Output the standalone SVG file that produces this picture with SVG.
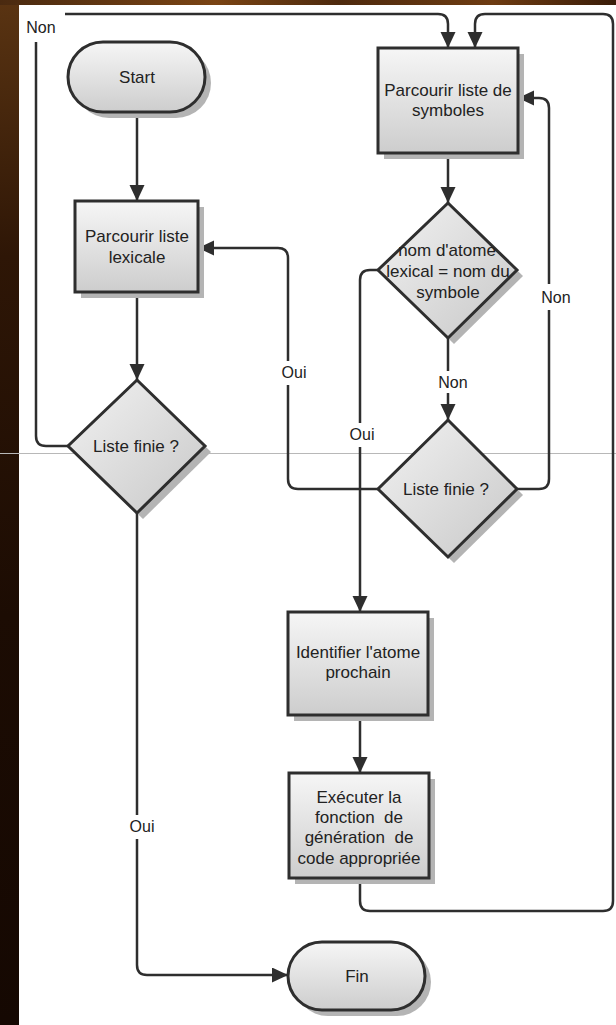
<svg xmlns="http://www.w3.org/2000/svg" width="616" height="1025" viewBox="0 0 616 1025">
<defs>
<linearGradient id="bgLeft" x1="0" y1="0" x2="0" y2="1">
<stop offset="0" stop-color="#5a3412"/>
<stop offset="0.25" stop-color="#2e1606"/>
<stop offset="0.6" stop-color="#1c0c03"/>
<stop offset="1" stop-color="#150802"/>
</linearGradient>
<linearGradient id="bgTop" x1="0" y1="0" x2="1" y2="0">
<stop offset="0" stop-color="#4a2a10"/>
<stop offset="0.35" stop-color="#7a4414"/>
<stop offset="0.55" stop-color="#4e2a0e"/>
<stop offset="0.8" stop-color="#6e3c12"/>
<stop offset="1" stop-color="#3a1c08"/>
</linearGradient>
<linearGradient id="nodeFill" x1="0" y1="0" x2="0" y2="1">
<stop offset="0" stop-color="#f6f6f6"/>
<stop offset="1" stop-color="#cdcdcd"/>
</linearGradient>
<linearGradient id="diaFill" x1="0" y1="0" x2="1" y2="1">
<stop offset="0" stop-color="#f2f2f2"/>
<stop offset="1" stop-color="#c8c8c8"/>
</linearGradient>
<marker id="arrow" markerUnits="userSpaceOnUse" markerWidth="18" markerHeight="16" refX="16" refY="7.5" orient="auto">
<path d="M0,0 L16,7.5 L0,15 z" fill="#2e2e2e"/>
</marker>
</defs>
<style>
.node{fill:url(#nodeFill);stroke:#2e2e2e;stroke-width:3}
.dia{fill:url(#diaFill);stroke:#2e2e2e;stroke-width:3;stroke-linejoin:miter}
.shadow{fill:#b4b4b4}
.conn{fill:none;stroke:#2e2e2e;stroke-width:2.5}
.arr{marker-end:url(#arrow)}
.t{font-family:"Liberation Sans",Arial,sans-serif;font-size:17px;fill:#222;text-anchor:middle}
.lbl{font-family:"Liberation Sans",Arial,sans-serif;font-size:16px;fill:#222;text-anchor:middle}
.lblbg{fill:#ffffff}
</style>

<!-- background -->
<rect x="0" y="0" width="616" height="1025" fill="url(#bgLeft)"/>
<rect x="0" y="0" width="616" height="5" fill="url(#bgTop)"/>
<rect x="19" y="5" width="597" height="1020" fill="#ffffff"/>
<line x1="0" y1="453.5" x2="616" y2="453.5" stroke="#b8b8b8" stroke-width="1"/>

<g id="connectors">
<path class="conn arr" d="M137,112 V201"/>
<path class="conn arr" d="M137,292 V380"/>
<path class="conn arr" d="M68,446 H46 Q36,446 36,436 V42 M65,14 H438 Q448,14 448,24 V48"/>
<path class="conn arr" d="M448,153 V203"/>
<path class="conn arr" d="M448,338 V420"/>
<path class="conn arr" d="M517,489 H539 Q549,489 549,479 V108 Q549,98 539,98 H518"/>
<path class="conn arr" d="M378,489 H298 Q288,489 288,479 V258 Q288,248 278,248 H198"/>
<path class="conn arr" d="M378,270 H370 Q360,270 360,280 V612"/>
<path class="conn arr" d="M360,715 V773"/>
<path class="conn arr" d="M360,878 V901 Q360,911 370,911 H603 Q613,911 613,901 V24 Q613,14 603,14 H485 Q475,14 475,24 V48"/>
<path class="conn arr" d="M137,513 V965 Q137,975 147,975 H288"/>
<!-- labels -->
<text class="lbl" x="41" y="33">Non</text>
<rect class="lblbg" x="438" y="371" width="30" height="22"/>
<text class="lbl" x="453" y="388">Non</text>
<rect class="lblbg" x="540" y="284" width="30" height="26"/>
<text class="lbl" x="556" y="303">Non</text>
<rect class="lblbg" x="280" y="361" width="28" height="24"/>
<text class="lbl" x="294" y="378">Oui</text>
<rect class="lblbg" x="348" y="423" width="28" height="24"/>
<text class="lbl" x="362" y="440">Oui</text>
<rect class="lblbg" x="127" y="815" width="30" height="24"/>
<text class="lbl" x="142" y="832">Oui</text>
</g>

<g id="start">
<rect class="shadow" x="74" y="48" width="137" height="70" rx="35"/>
<rect class="node" x="68" y="42" width="137" height="70" rx="35"/>
<text class="t" x="137" y="83">Start</text>
</g>

<g id="parcourir-lexicale">
<rect class="shadow" x="81" y="207" width="123" height="91"/>
<rect class="node" x="75" y="201" width="123" height="91"/>
<text class="t" x="137" y="242">Parcourir liste</text>
<text class="t" x="137" y="263">lexicale</text>
</g>

<g id="liste-finie-1">
<polygon class="shadow" points="143,386 211,452 143,519 74,452"/>
<polygon class="dia" points="137,380 205,446 137,513 68,446"/>
<text class="t" x="136" y="452">Liste finie ?</text>
</g>

<g id="parcourir-symboles">
<rect class="shadow" x="384" y="54" width="140" height="105"/>
<rect class="node" x="378" y="48" width="140" height="105"/>
<text class="t" x="448" y="96">Parcourir liste de</text>
<text class="t" x="448" y="116">symboles</text>
</g>

<g id="nom-atome">
<polygon class="shadow" points="454,209 523,276 454,344 384,276"/>
<polygon class="dia" points="448,203 517,270 448,338 378,270"/>
<text class="t" x="447" y="256">nom d'atome</text>
<text class="t" x="448" y="277">lexical = nom du</text>
<text class="t" x="448" y="298">symbole</text>
</g>

<g id="liste-finie-2">
<polygon class="shadow" points="454,426 523,495 454,563 384,495"/>
<polygon class="dia" points="448,420 517,489 448,557 378,489"/>
<text class="t" x="446" y="495">Liste finie ?</text>
</g>

<g id="identifier">
<rect class="shadow" x="294" y="618" width="140" height="103"/>
<rect class="node" x="288" y="612" width="140" height="103"/>
<text class="t" x="358" y="658">Identifier l'atome</text>
<text class="t" x="358" y="678">prochain</text>
</g>

<g id="executer">
<rect class="shadow" x="295" y="779" width="140" height="105"/>
<rect class="node" x="289" y="773" width="140" height="105"/>
<text class="t" x="359" y="803" xml:space="preserve">Exécuter la</text>
<text class="t" x="359" y="823" xml:space="preserve">fonction  de</text>
<text class="t" x="359" y="843" xml:space="preserve">génération  de</text>
<text class="t" x="359" y="864" xml:space="preserve">code appropriée</text>
</g>

<g id="fin">
<rect class="shadow" x="294" y="948" width="137" height="68" rx="34"/>
<rect class="node" x="288" y="942" width="137" height="68" rx="34"/>
<text class="t" x="357" y="982">Fin</text>
</g>
</svg>
